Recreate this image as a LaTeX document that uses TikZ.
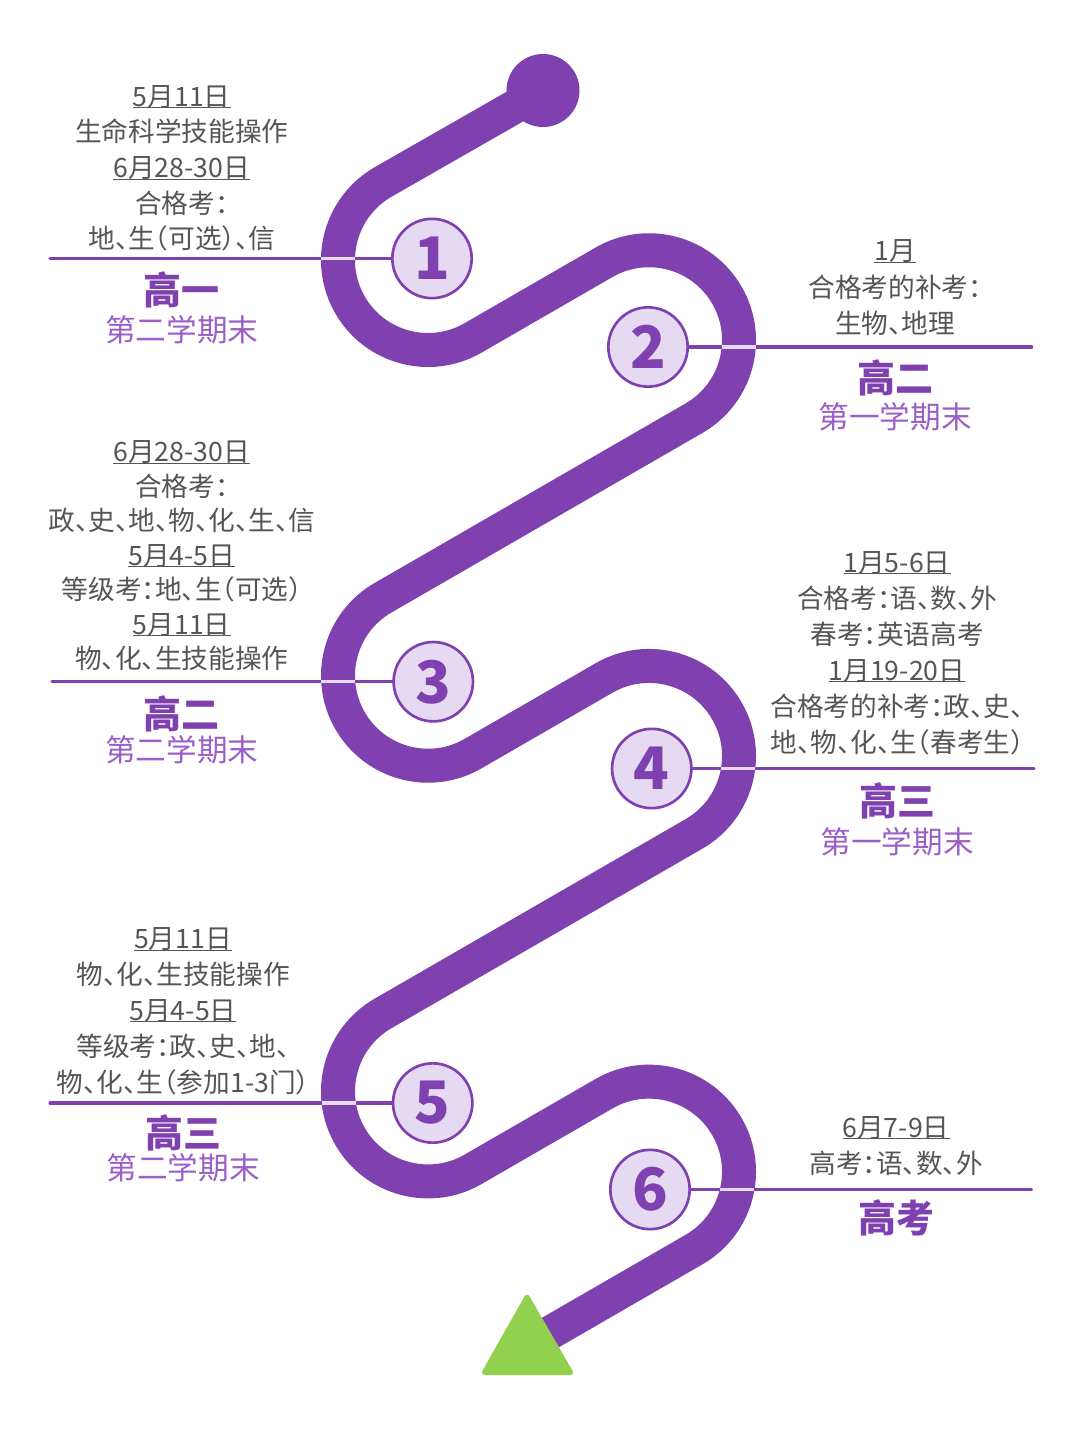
\documentclass[tikz,border=0pt]{standalone}
\usepackage{fontspec}
\setmainfont{Noto Sans CJK SC}[RawFeature=+halt]
\usetikzlibrary{intersections}
\definecolor{trackc}{RGB}{128,65,176}
\definecolor{lavc}{RGB}{230,218,242}
\definecolor{txtc}{RGB}{85,85,85}
\definecolor{subc}{RGB}{155,95,200}
\definecolor{greenc}{RGB}{146,208,80}
\newsavebox\dulbox
\newcommand\dul[1]{\sbox\dulbox{#1}\rlap{\color{txtc}\rule[-1.6pt]{\wd\dulbox}{0.8pt}}\usebox\dulbox}
\begin{document}
\begin{tikzpicture}[x=0.75pt,y=0.75pt,
  track/.style={draw=trackc,line width=25.5pt},
  numc/.style={circle,draw=trackc,line width=2pt,fill=lavc,minimum size=59.5pt,inner sep=0pt,text=trackc,font=\fontsize{44}{44}\selectfont\bfseries},
  body/.style={anchor=base,inner sep=0pt,text=txtc,font=\fontsize{20}{24}\selectfont},
  ttl/.style={anchor=base,inner sep=0pt,text=trackc,font=\fontsize{28.5}{30}\selectfont\bfseries},
  sub/.style={anchor=base,inner sep=0pt,text=subc,font=\fontsize{23}{26}\selectfont},
  tick/.style={draw=trackc,line width=2.3pt,line cap=round},
  gap/.style={draw=lavc,line width=2.3pt},
]
\useasboundingbox (0,0) rectangle (1080,-1437);
% bend centres
\coordinate (b1) at (428,-260);
\coordinate (b2) at (649,-340.25);
\coordinate (b3) at (428,-675.7);
\coordinate (b4) at (649,-755.95);
\coordinate (b5) at (428,-1091.4);
\coordinate (b6) at (649,-1171.65);
\coordinate (tstart) at (543,-90.5);
\coordinate (tend) at (535,-1341.4);
% track
\draw[track,name path=trk] (tstart)
  -- ([shift={(120:90)}]b1) arc[start angle=120,end angle=300,radius=90]
  -- ([shift={(120:90)}]b2) arc[start angle=120,end angle=-60,radius=90]
  -- ([shift={(120:90)}]b3) arc[start angle=120,end angle=300,radius=90]
  -- ([shift={(120:90)}]b4) arc[start angle=120,end angle=-60,radius=90]
  -- ([shift={(120:90)}]b5) arc[start angle=120,end angle=300,radius=90]
  -- ([shift={(120:90)}]b6) arc[start angle=120,end angle=-60,radius=90]
  -- (tend);
\node[circle,fill=trackc,minimum size=54.75pt,inner sep=0pt] (startdot) at (tstart) {};
\fill[greenc,rounded corners=4pt] (503.5,-1333.5) -- (527,-1292) -- (575,-1375) -- (480,-1375) -- cycle;
% circle centres and line ends
\coordinate (c1) at (432,-258.5);
\coordinate (c2) at (648,-347);
\coordinate (c3) at (433.3,-681.7);
\coordinate (c4) at (651.7,-768.5);
\coordinate (c5) at (432.7,-1103);
\coordinate (c6) at (650,-1189.5);
\coordinate (e1) at (50,-258.5);
\coordinate (e2) at (1031.7,-347);
\coordinate (e3) at (52,-681.7);
\coordinate (e4) at (1034,-768.5);
\coordinate (e5) at (50,-1103);
\coordinate (e6) at (1031.7,-1189.5);
\foreach \i in {1,...,6}{
  \draw[tick,name path=h\i] (e\i) -- (c\i);
  \path[name intersections={of=trk and h\i,by=x\i}];
  \draw[gap] ([xshift=-12.75pt]x\i) -- ([xshift=12.75pt]x\i);
}
\node[numc] (n1) at (c1) {1};
\node[numc] (n2) at (c2) {2};
\node[numc] (n3) at (c3) {3};
\node[numc] (n4) at (c4) {4};
\node[numc] (n5) at (c5) {5};
\node[numc] (n6) at (c6) {6};
% block 1
\node[body] (a1) at (181.7,-106.2) {\dul{5月11日}};
\node[body] (a2) at (181.7,-141.9) {生命科学技能操作};
\node[body] (a3) at (181.7,-177.6) {\dul{6月28-30日}};
\node[body] (a4) at (181.7,-213.3) {合格考：};
\node[body] (a5) at (181.7,-249) {地、生（可选）、信};
\node[ttl] (ta) at (181.7,-304.4) {高一};
\node[sub] (sa) at (181.7,-341.5) {第二学期末};
% block 2
\node[body] (b2a) at (895,-260.6) {\dul{1月}};
\node[body] (b2b) at (895,-297.1) {合格考的补考：};
\node[body] (b2c) at (895,-333.6) {生物、地理};
\node[ttl] (tb) at (895,-392) {高二};
\node[sub] (sb) at (895,-428.2) {第一学期末};
% block 3
\node[body] (c3a) at (181.7,-461.9) {\dul{6月28-30日}};
\node[body] (c3b) at (181.7,-496.35) {合格考：};
\node[body] (c3c) at (181.7,-530.8) {政、史、地、物、化、生、信};
\node[body] (c3d) at (181.7,-565.25) {\dul{5月4-5日}};
\node[body] (c3e) at (181.7,-599.7) {等级考：地、生（可选）};
\node[body] (c3f) at (181.7,-634.15) {\dul{5月11日}};
\node[body] (c3g) at (181.7,-668.6) {物、化、生技能操作};
\node[ttl] (tc) at (181.7,-728.7) {高二};
\node[sub] (sc) at (181.7,-761.5) {第二学期末};
% block 4
\node[body] (d4a) at (897,-572) {\dul{1月5-6日}};
\node[body] (d4b) at (897,-608) {合格考：语、数、外};
\node[body] (d4c) at (897,-644) {春考：英语高考};
\node[body] (d4d) at (897,-680) {\dul{1月19-20日}};
\node[body] (d4e) at (897,-716) {合格考的补考：政、史、};
\node[body] (d4f) at (897,-752) {地、物、化、生（春考生）};
\node[ttl] (td) at (897,-815.4) {高三};
\node[sub] (sd) at (897,-853.2) {第一学期末};
% block 5
\node[body] (f5a) at (183,-948.6) {\dul{5月11日}};
\node[body] (f5b) at (183,-984.45) {物、化、生技能操作};
\node[body] (f5c) at (183,-1020.3) {\dul{5月4-5日}};
\node[body] (f5d) at (183,-1056.15) {等级考：政、史、地、};
\node[body] (f5e) at (183,-1092) {物、化、生（参加1-3门）};
\node[ttl] (te) at (183,-1147) {高三};
\node[sub] (se) at (183,-1179.8) {第二学期末};
% block 6
\node[body] (g6a) at (896,-1137) {\dul{6月7-9日}};
\node[body] (g6b) at (896,-1173.6) {高考：语、数、外};
\node[ttl] (tf) at (896,-1232) {高考};
\end{tikzpicture}
\end{document}
